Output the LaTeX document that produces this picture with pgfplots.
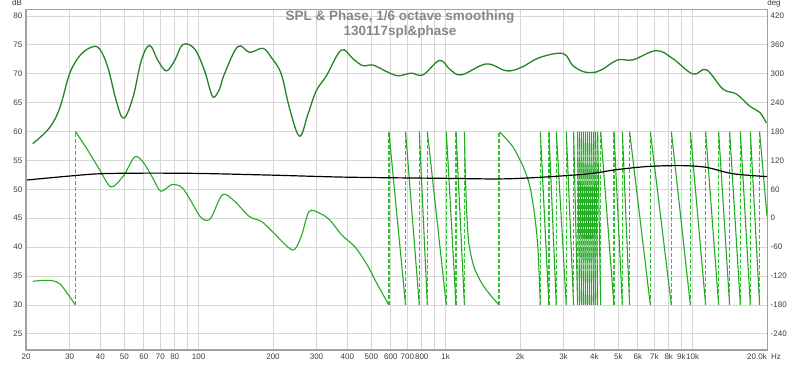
\documentclass[border=0pt]{standalone}
\usepackage{pgfplots}
\pgfplotsset{compat=1.18}
\usepackage{fontspec}
\setmainfont{Liberation Sans}
\definecolor{splc}{RGB}{36,132,36}
\definecolor{phc}{RGB}{34,170,34}
\definecolor{gridc}{RGB}{214,214,214}
\definecolor{axc}{RGB}{160,160,160}
\definecolor{labc}{RGB}{60,60,60}
\definecolor{titc}{RGB}{135,135,135}

\pgfplotstableread{
f db
21.3 57.9
24.9 60.65
27.4 64.1
30.0 69.95
33.0 73.1
36.8 74.6
39.7 74.3
42.9 71.1
46.4 65.3
49.7 62.3
54.2 65.9
58.6 72.3
63.3 74.9
68.4 72.3
74.0 70.5
80 72.3
86.3 75.05
96.3 74.3
105.7 70.5
110.7 67.5
115 65.9
121.6 67.4
127 69.9
144 74.7
161 73.7
182 74.4
197 72.8
216 69.95
233 64.1
256 59.2
277 63.0
299 67.0
329 69.65
378 74.1
421 72.6
462 71.4
508 71.5
575 70.4
641 69.65
726 70.1
809 69.8
945 72.3
1038 70.8
1157 69.8
1461 71.7
1761 70.5
2025 71.1
2400 72.8
2984 73.5
3274 71.4
3652 70.3
4073 70.3
4332 70.8
4979 72.4
5727 72.4
7127 74.0
8318 72.6
10024 69.95
11360 70.7
13260 67.35
15020 66.5
17020 64.4
18710 63.3
19870 61.5
}\spltable

\pgfplotstableread{
f db
20 51.6
30 52.3
40 52.7
60 52.8
100 52.75
200 52.45
400 52.1
1000 51.9
1654 51.8
2400 52.07
3826 52.7
4898 53.4
6670 53.97
9080 54.1
11360 53.8
14540 52.7
20000 52.2
}\blacktable

\pgfplotstableread{
f deg
21.3 -131
23.5 -129
25.7 -130
27.4 -136
29.2 -154
31.7 -180
}\phaseA

\pgfplotstableread{
f deg
31.7 180
35 147
39.7 101
44.2 65
49.6 88
55 127
59.3 118
65 85
70.2 56
78 70
85.5 64
92 40
100 8
105 -3
112 0
125 49
140 35
160 4
180 -7
200 -29
240 -66
260 -38
280 14
310 10
340 -4
380 -35
430 -60
480 -96
530 -138
589 -180
}\phaseB

\pgfplotstableread{
f deg
1191 180
1200 100
1215 20
1240 -50
1300 -100
1400 -135
1520 -160
1644 -180
}\phaseC

\pgfplotstableread{
f deg
1654 179
1867 149
2056 108
2193 66
2295 4
2365 -65
2416 -180
}\phaseD

\pgfplotstableread{
f deg
589 180
688 -180
688 nan
688 180
782 -180
782 nan
782 180
843 -180
843 nan
843 180
1006 -180
1006 nan
1006 180
1101 -180
1101 nan
1101 180
1191 -180
1191 nan
2416 180
2618 -180
2618 nan
2618 180
2805 -180
2805 nan
2805 180
3078 -180
3078 nan
3078 180
3296 -180
3296 nan
3296 180
3422 -180
3422 nan
3422 180
3486 -180
3486 nan
3486 180
3551 -180
3551 nan
3551 180
3617 -180
3617 nan
3617 180
3685 -180
3685 nan
3685 180
3754 -180
3754 nan
3754 180
3825 -180
3825 nan
3825 180
3897 -180
3897 nan
3897 180
3971 -180
3971 nan
3971 180
4046 -180
4046 nan
4046 180
4123 -180
4123 nan
4123 180
4241 -180
4241 nan
4241 180
4800 -180
4800 nan
4800 180
5192 -180
5192 nan
5192 180
5555 -180
5555 nan
5555 180
6739 -180
6739 nan
6739 180
8198 -180
8198 nan
8198 180
9786 -180
9786 nan
9786 180
11282 -180
11282 nan
11282 180
12737 -180
12737 nan
12737 180
14114 -180
14114 nan
14114 180
15596 -180
15596 nan
15596 180
17115 -180
17115 nan
17115 180
18665 -180
18665 nan
18665 180
20000 4
}\phasetable

\pgfplotstableread{
f deg
589 -180
589 180
589 nan
688 -180
688 180
688 nan
782 -180
782 180
782 nan
843 -180
843 180
843 nan
1006 -180
1006 180
1006 nan
1101 -180
1101 180
1101 nan
1191 -180
1191 180
1191 nan
1644 -180
1644 180
1644 nan
2416 -180
2416 180
2416 nan
2618 -180
2618 180
2618 nan
2805 -180
2805 180
2805 nan
3078 -180
3078 180
3078 nan
3296 -180
3296 180
3296 nan
3422 -180
3422 180
3422 nan
3486 -180
3486 180
3486 nan
3551 -180
3551 180
3551 nan
3617 -180
3617 180
3617 nan
3685 -180
3685 180
3685 nan
3754 -180
3754 180
3754 nan
3825 -180
3825 180
3825 nan
3897 -180
3897 180
3897 nan
3971 -180
3971 180
3971 nan
4046 -180
4046 180
4046 nan
4123 -180
4123 180
4123 nan
4241 -180
4241 180
4241 nan
4800 -180
4800 180
4800 nan
5192 -180
5192 180
5192 nan
5555 -180
5555 180
5555 nan
6739 -180
6739 180
6739 nan
8198 -180
8198 180
8198 nan
9786 -180
9786 180
9786 nan
11282 -180
11282 180
11282 nan
12737 -180
12737 180
12737 nan
14114 -180
14114 180
14114 nan
15596 -180
15596 180
15596 nan
17115 -180
17115 180
17115 nan
18665 -180
18665 180
18665 nan
}\wraptable

\begin{document}
\begin{tikzpicture}
\useasboundingbox (0,0) rectangle (800pt,365pt);
\begin{axis}[
  at={(26pt,15pt)}, anchor=south west, scale only axis,
  width=741pt, height=341pt,
  xmode=log, xmin=20, xmax=20000,
  ymin=-273.6, ymax=434.4,
  xtick={20,30,40,50,60,70,80,90,100,200,300,400,500,600,700,800,900,1000,2000,3000,4000,5000,6000,7000,8000,9000,10000,20000},
  xticklabels={20,30,40,50,60,70,80,,100,200,300,400,500,600,700,800,,1k,2k,3k,4k,5k,6k,7k,8k,9k,10k,},
  ytick={-240,-180,...,420},
  yticklabel pos=right,
  grid=major,
  major grid style={draw=gridc, line width=0.8pt},
  major tick length=0pt,
  axis line style={draw=axc, line width=0.8pt},
  /pgf/number format/assume math mode=true,
  tick label style={font=\fontsize{8}{9}\selectfont, text=labc, inner sep=0pt},
  xticklabel style={yshift=-3.5pt},
  yticklabel style={xshift=3.5pt},
  unbounded coords=jump,
  clip=true,
]
\addplot[draw={rgb,255:red,40;green,200;blue,40}, mark=none, line width=1.3pt, dash pattern=on 4pt off 2pt] coordinates {(31.7,-180) (31.7,180)};
\addplot[draw={rgb,255:red,40;green,200;blue,40}, mark=none, line width=1.3pt, dash pattern=on 4pt off 2pt] table[x=f,y=deg] {\wraptable};
\addplot[draw=phc, mark=none, line width=1.1pt, smooth, tension=0.5] table[x=f,y=deg] {\phaseA};
\addplot[draw=phc, mark=none, line width=1.1pt, smooth, tension=0.5] table[x=f,y=deg] {\phaseB};
\addplot[draw=phc, mark=none, line width=1.1pt, smooth, tension=0.5] table[x=f,y=deg] {\phaseC};
\addplot[draw=phc, mark=none, line width=1.1pt, smooth, tension=0.5] table[x=f,y=deg] {\phaseD};
\addplot[draw=phc, mark=none, line width=1.1pt] table[x=f,y=deg] {\phasetable};
\end{axis}
\begin{axis}[
  at={(26pt,15pt)}, anchor=south west, scale only axis,
  width=741pt, height=341pt,
  xmode=log, xmin=20, xmax=20000,
  ymin=22.2, ymax=81.2,
  axis x line=none,
  axis y line*=left,
  ytick={25,30,...,80},
  major tick length=0pt,
  axis line style={draw=axc, line width=0.8pt},
  /pgf/number format/assume math mode=true,
  tick label style={font=\fontsize{8}{9}\selectfont, text=labc, inner sep=0pt},
  yticklabel style={xshift=-3.5pt},
  clip=true,
]
\addplot[draw=black, mark=none, line width=1.2pt, smooth] table[x=f,y=db] {\blacktable};
\addplot[draw=splc, mark=none, line width=1.3pt, smooth, tension=0.6] table[x=f,y=db] {\spltable};
\end{axis}
\draw[axc, line width=2pt] (26pt,356pt) -- (26pt,15pt) -- (767pt,15pt);
\node[font=\fontsize{8}{9}\selectfont, text=labc, inner sep=0pt, anchor=north east] at (767pt,11.5pt) {20.0k};
\node[font=\fontsize{8}{9}\selectfont, text=labc, inner sep=0pt, anchor=north west] at (771pt,11.5pt) {Hz};
\node[font=\fontsize{8}{9}\selectfont, text=labc, inner sep=0pt, anchor=north] at (17pt,365pt) {dB};
\node[font=\fontsize{8}{9}\selectfont, text=labc, inner sep=0pt, anchor=north] at (774pt,365pt) {deg};
\node[font=\bfseries\fontsize{13.5}{15}\selectfont, text=titc, inner sep=0pt] at (400pt,348pt) {SPL \& Phase, 1/6 octave smoothing};
\node[font=\bfseries\fontsize{13.5}{15}\selectfont, text=titc, inner sep=0pt] at (400pt,333pt) {130117spl\&phase};
\end{tikzpicture}
\end{document}
